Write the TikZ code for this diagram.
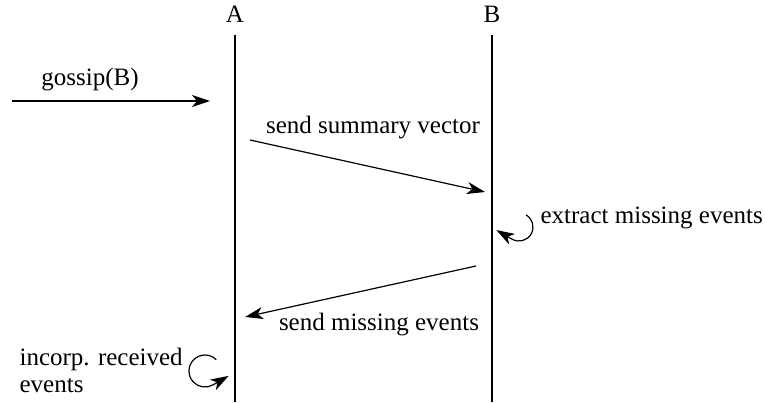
\documentclass[tikz,border=0pt]{standalone}
\usepackage{fontspec}
\setmainfont{Liberation Serif}
\usetikzlibrary{arrows.meta}
\begin{document}
\begin{tikzpicture}[x=0.5pt,y=0.5pt,line width=0.6pt,
  msg/.style={-{Stealth[length=9pt,width=6pt,inset=2.5pt]}},
  lbl/.style={inner sep=0pt,font=\fontsize{12.5}{15}\selectfont}]
\useasboundingbox (0,0) rectangle (765,402);

% participants and their lifelines
\node[lbl,anchor=base] (A) at (235,379) {A};
\node[lbl,anchor=base] (B) at (492,379) {B};
\coordinate (Atop) at (235,367);
\coordinate (Abot) at (235,0);
\coordinate (Btop) at (492,367);
\coordinate (Bbot) at (492,0);
\draw (Atop) -- (Abot);
\draw (Btop) -- (Bbot);

% trigger from outside
\coordinate (g0) at (12,301);
\coordinate (g1) at (210,301);
\draw[msg] (g0) -- (g1);
\node[lbl,anchor=base] (gl) at (90,316) {gossip(B)};

% A sends its summary vector to B
\coordinate (s0) at (250,262);
\coordinate (s1) at (485,210);
\draw[msg] (s0) -- (s1);
\node[lbl,anchor=base] (sl) at (373,268) {send summary vector};

% B works out what A is missing (clockwise self-loop)
\coordinate (lb) at (526,187.1);
\draw (lb) arc[start angle=60,end angle=-120,radius=14] coordinate (lbend);
\coordinate (lbtip) at (496.4,171.9);
\draw[msg] (lbend) -- (lbtip);
\node[lbl,anchor=base west] (el) at (540,178) {extract missing events};

% B returns the missing events
\coordinate (m0) at (476,136);
\coordinate (m1) at (245,85);
\draw[msg] (m0) -- (m1);
\node[lbl,anchor=base] (ml) at (379,72) {send missing events};

% A merges what it received (counter-clockwise self-loop)
\coordinate (la) at (216.3,42.3);
\draw (la) arc[start angle=45,end angle=300,radius=16] coordinate (laend);
\coordinate (latip) at (228.6,26.1);
\draw[msg] (laend) -- (latip);
\node[lbl,anchor=base west] (il) at (19,37) {incorp. received};
\node[lbl,anchor=base west] (il2) at (19,10) {events};
\end{tikzpicture}
\end{document}
